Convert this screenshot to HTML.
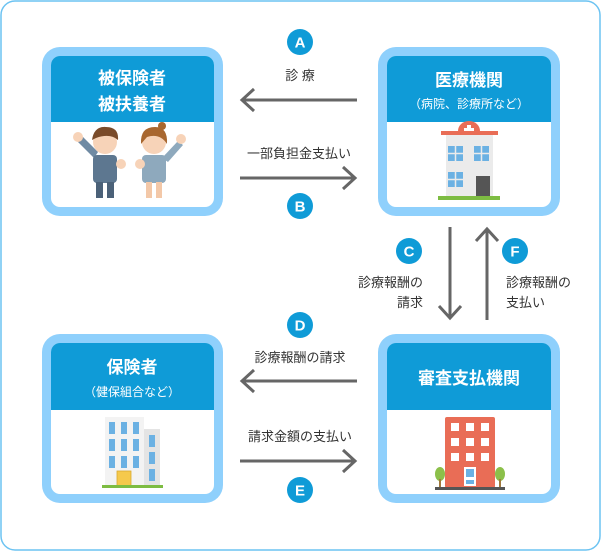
<!DOCTYPE html>
<html><head><meta charset="utf-8"><style>
html,body{margin:0;padding:0;background:#fff;}
svg{display:block;}
text{font-family:"Liberation Sans","Noto Sans CJK JP",sans-serif;}
</style></head><body>
<svg width="601" height="551" viewBox="0 0 601 551" xmlns="http://www.w3.org/2000/svg">
<rect x="1" y="1" width="599" height="549" rx="14" fill="#fff" stroke="#6cc3f2" stroke-width="1.5"/>

<g>
<rect x="42" y="47" width="181" height="169" rx="18" fill="#8fd0fc"/>
<rect x="51" y="56" width="163" height="151" rx="9" fill="#fff"/>
<path d="M51 122 V65 a9 9 0 0 1 9 -9 H205 a9 9 0 0 1 9 9 V122 Z" fill="#0f9bd7"/>
<text x="132" y="84" text-anchor="middle" fill="#fff" font-size="17" font-weight="bold">被保険者</text>
<text x="132" y="110" text-anchor="middle" fill="#fff" font-size="17" font-weight="bold">被扶養者</text>
</g>
<g>
<rect x="378" y="47" width="182" height="169" rx="18" fill="#8fd0fc"/>
<rect x="387" y="56" width="164" height="151" rx="9" fill="#fff"/>
<path d="M387 122 V65 a9 9 0 0 1 9 -9 H542 a9 9 0 0 1 9 9 V122 Z" fill="#0f9bd7"/>
<text x="469" y="86" text-anchor="middle" fill="#fff" font-size="17" font-weight="bold">医療機関</text>
<text x="469" y="108" text-anchor="middle" fill="#fff" font-size="12">（病院、診療所など）</text>
</g>
<g>
<rect x="42" y="334" width="181" height="169" rx="18" fill="#8fd0fc"/>
<rect x="51" y="343" width="163" height="151" rx="9" fill="#fff"/>
<path d="M51 410 V352 a9 9 0 0 1 9 -9 H205 a9 9 0 0 1 9 9 V410 Z" fill="#0f9bd7"/>
<text x="132" y="373" text-anchor="middle" fill="#fff" font-size="17" font-weight="bold">保険者</text>
<text x="132" y="396" text-anchor="middle" fill="#fff" font-size="12">（健保組合など）</text>
</g>
<g>
<rect x="378" y="334" width="182" height="169" rx="18" fill="#8fd0fc"/>
<rect x="387" y="343" width="164" height="151" rx="9" fill="#fff"/>
<path d="M387 410 V352 a9 9 0 0 1 9 -9 H542 a9 9 0 0 1 9 9 V410 Z" fill="#0f9bd7"/>
<text x="469" y="384" text-anchor="middle" fill="#fff" font-size="17" font-weight="bold">審査支払機関</text>
</g>

<!-- people -->
<g>
<path d="M94 158 L76 140 L81 135 L98 152 Z" fill="#6f8aa3"/>
<circle cx="78" cy="137" r="5" fill="#f7d3b8"/>
<rect x="93" y="155" width="24" height="28" rx="4" fill="#5d7790"/>
<rect x="96" y="182" width="7" height="16" fill="#4b6178"/><rect x="107" y="182" width="7" height="16" fill="#4b6178"/>
<circle cx="105" cy="142" r="12" fill="#f7d3b8"/>
<path d="M92 140 Q94 126 106 127 Q119 127 118 140 Q110 133 96 138 Z" fill="#7a4b2a"/>
<circle cx="121" cy="164" r="5" fill="#f7d3b8"/>
<rect x="142" y="155" width="24" height="28" rx="4" fill="#8ea9bd"/>
<rect x="146" y="182" width="6" height="16" fill="#f3c8a8"/><rect x="156" y="182" width="6" height="16" fill="#f3c8a8"/>
<path d="M162 158 L178 141 L183 145 L168 162 Z" fill="#8ea9bd"/>
<circle cx="181" cy="139" r="5" fill="#f7d3b8"/>
<circle cx="154" cy="142" r="12" fill="#f7d3b8"/>
<path d="M141 144 Q140 127 155 127 Q168 127 167 144 Q160 133 147 137 Z" fill="#a8672f"/>
<circle cx="162" cy="126" r="4" fill="#a8672f"/>
<circle cx="140" cy="164" r="5" fill="#f7d3b8"/>
</g>

<!-- hospital -->
<g>
<path d="M458 131 a11 10 0 0 1 22 0 Z" fill="#e96d56"/>
<rect x="467" y="125" width="4" height="10" fill="#fff"/><rect x="464" y="128" width="10" height="4" fill="#fff"/>
<rect x="441" y="131" width="57" height="4" fill="#e96d56"/>
<rect x="446" y="135" width="47" height="62" fill="#ebebeb"/>
<rect x="448" y="146" width="15" height="15" fill="#6bb1e3"/><rect x="474" y="146" width="15" height="15" fill="#6bb1e3"/>
<rect x="448" y="172" width="15" height="15" fill="#6bb1e3"/>
<path d="M455.5 146v15M448 153.5h15M481.5 146v15M474 153.5h15M455.5 172v15M448 179.5h15" stroke="#ebebeb" stroke-width="1.5"/>
<rect x="476" y="176" width="14" height="21" fill="#555"/>
<rect x="438" y="196" width="62" height="4" fill="#7dbc42"/>
</g>

<!-- insurer building -->
<g>
<rect x="105" y="417" width="39" height="69" fill="#f3f3f3"/>
<rect x="144" y="429" width="16" height="57" fill="#e4e4e4"/>
<g fill="#6bb1e3">
<rect x="109" y="422" width="6" height="12"/><rect x="121" y="422" width="6" height="12"/><rect x="133" y="422" width="6" height="12"/>
<rect x="109" y="439" width="6" height="12"/><rect x="121" y="439" width="6" height="12"/><rect x="133" y="439" width="6" height="12"/>
<rect x="109" y="456" width="6" height="12"/><rect x="121" y="456" width="6" height="12"/><rect x="133" y="456" width="6" height="12"/>
<rect x="149" y="435" width="6" height="12"/><rect x="149" y="452" width="6" height="12"/><rect x="149" y="469" width="6" height="12"/>
</g>
<rect x="117" y="471" width="14" height="15" fill="#f5c94c" stroke="#d9a92f" stroke-width="0.8"/>
<rect x="102" y="485" width="61" height="3" fill="#7dbc42"/>
</g>

<!-- review building -->
<g>
<rect x="445" y="417" width="50" height="71" rx="2" fill="#e96d56"/>
<g fill="#fff">
<rect x="451" y="423" width="8" height="8"/><rect x="466" y="423" width="8" height="8"/><rect x="481" y="423" width="8" height="8"/>
<rect x="451" y="438" width="8" height="8"/><rect x="466" y="438" width="8" height="8"/><rect x="481" y="438" width="8" height="8"/>
<rect x="451" y="453" width="8" height="8"/><rect x="466" y="453" width="8" height="8"/><rect x="481" y="453" width="8" height="8"/>
<rect x="464" y="467" width="12" height="19"/>
</g>
<rect x="466" y="469" width="8" height="8" fill="#6bb1e3"/><rect x="466" y="480" width="8" height="4" fill="#6bb1e3"/>
<ellipse cx="440" cy="474" rx="5" ry="7" fill="#8cc04a"/><rect x="439" y="479" width="2" height="8" fill="#a0783c"/>
<ellipse cx="500" cy="474" rx="5" ry="7" fill="#8cc04a"/><rect x="499" y="479" width="2" height="8" fill="#a0783c"/>
<rect x="435" y="487" width="70" height="3" fill="#555"/>
</g>

<!-- arrows -->
<g stroke="#666" stroke-width="3" fill="none">
<path d="M357 100 H243 M254 89 L242 100 L254 111"/>
<path d="M240 178 H354 M343 167 L355 178 L343 189"/>
<path d="M357 381 H243 M254 370 L242 381 L254 392"/>
<path d="M240 461 H354 M343 450 L355 461 L343 472"/>
<path d="M450 227 V317 M439 306 L450 318 L461 306"/>
<path d="M487 320 V230 M476 241 L487 229 L498 241"/>
</g>

<g fill="#0f9bd7">
<circle cx="300" cy="42" r="13"/><circle cx="300" cy="206" r="13"/>
<circle cx="300" cy="325" r="13"/><circle cx="300" cy="490" r="13"/>
<circle cx="409" cy="251" r="13"/><circle cx="515" cy="251" r="13"/>
</g>
<g fill="#fff" font-size="15" font-weight="bold" text-anchor="middle">
<text x="300" y="47.5">A</text><text x="300" y="211.5">B</text>
<text x="300" y="330.5">D</text><text x="300" y="495.5">E</text>
<text x="409" y="256.5">C</text><text x="515" y="256.5">F</text>
</g>

<g fill="#333" font-size="13">
<text x="300" y="80" text-anchor="middle">診 療</text>
<text x="299" y="158" text-anchor="middle">一部負担金支払い</text>
<text x="300" y="362" text-anchor="middle">診療報酬の請求</text>
<text x="300" y="441" text-anchor="middle">請求金額の支払い</text>
<text x="423" y="287" text-anchor="end">診療報酬の</text>
<text x="423" y="307" text-anchor="end">請求</text>
<text x="506" y="287">診療報酬の</text>
<text x="506" y="307">支払い</text>
</g>
</svg>
</body></html>
